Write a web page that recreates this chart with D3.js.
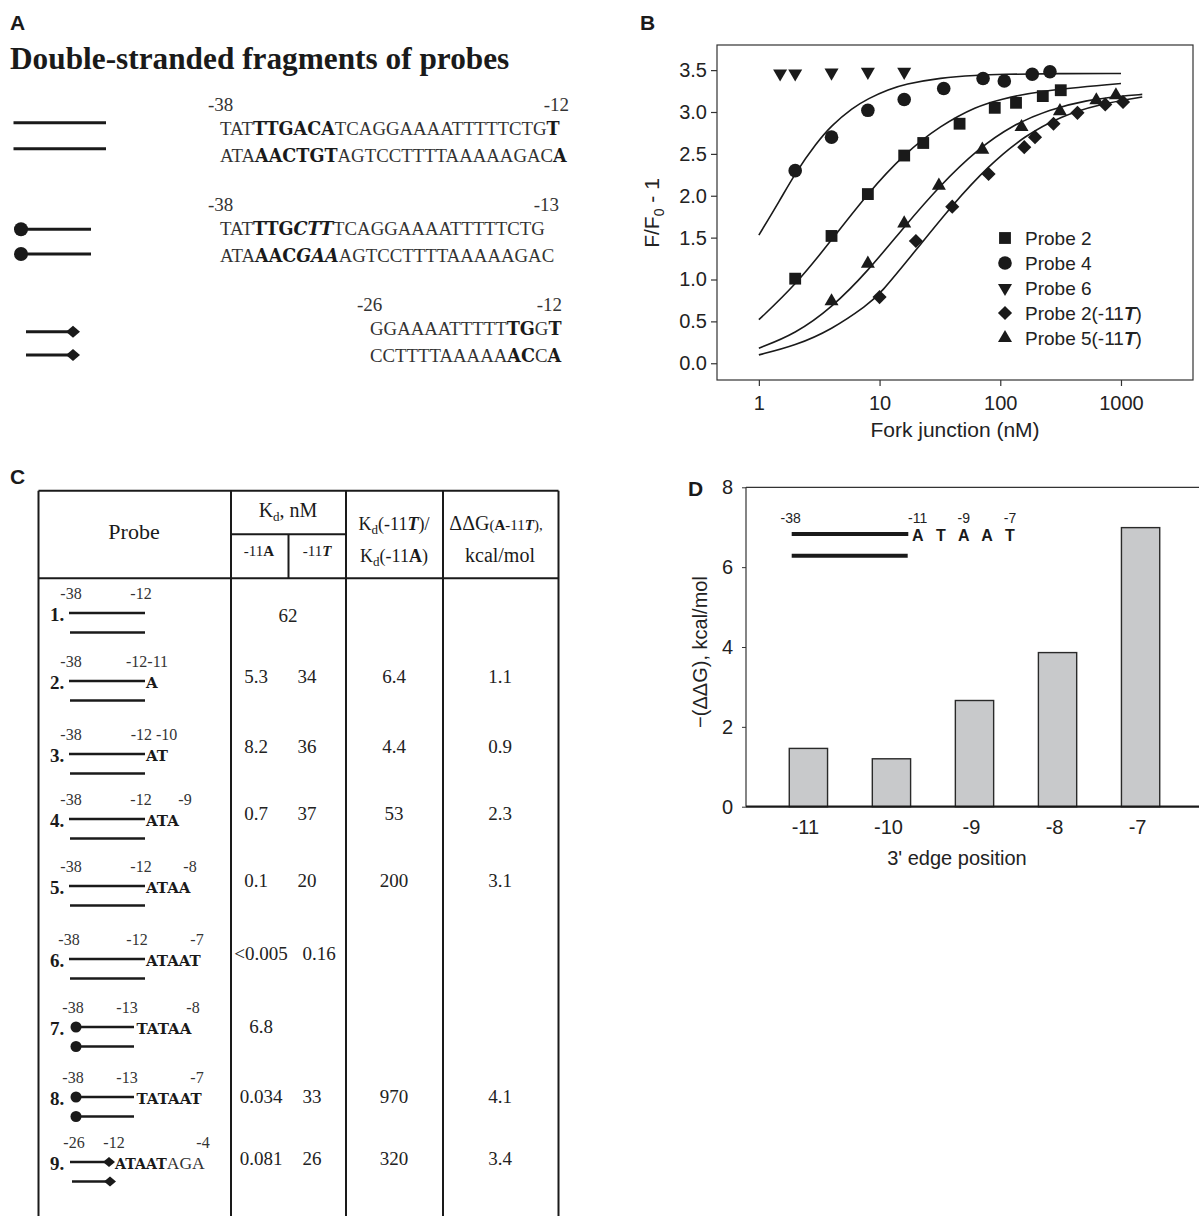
<!DOCTYPE html>
<html>
<head>
<meta charset="utf-8">
<script src="https://cdn.jsdelivr.net/npm/d3@7"></script>
<style>
body { margin: 0; background: #fff; }
svg { display: block; }
.serif { font-family: "Liberation Serif", "Times New Roman", serif; }
.sans { font-family: "Liberation Sans", Arial, Helvetica, sans-serif; }
.mono { font-family: "DejaVu Serif", "Courier New", serif; font-weight: bold; }
text { fill: #1a1a1a; }
</style>
</head>
<body>
<svg width="1199" height="1216"></svg>
<script>
// ---------- data ----------

// Panel A: sequences ([..] = bold, {..} = bold italic)
const seqTop = ["TAT[TTGACA]TCAGGAAAATTTTTCTG[T]", "TAT[TTG]{CTT}TCAGGAAAATTTTTCTG", "GGAAAATTTTT[TG]G[T]"];
const seqBottom = ["ATA[AACTGT]AGTCCTTTTAAAAAGAC[A]", "ATA[AAC]{GAA}AGTCCTTTTAAAAAGAC", "CCTTTTAAAAA[AC]C[A]"];
const seqStart = ["-38", "-38", "-26"];
const seqEnd = ["-12", "-13", "-12"];
const seqEnds = ["plain", "circle", "diamond"];

// Panel B: titration data
const probe2X = [2, 4, 8, 16, 23, 46, 90, 135, 225, 317];
const probe2Y = [1.01, 1.52, 2.02, 2.48, 2.63, 2.86, 3.05, 3.11, 3.19, 3.26];
const probe4X = [2, 4, 8, 16, 34, 72, 108, 184, 258];
const probe4Y = [2.30, 2.70, 3.02, 3.15, 3.28, 3.40, 3.37, 3.45, 3.48];
const probe6X = [1.5, 2, 4, 8, 16];
const probe6Y = [3.46, 3.46, 3.47, 3.48, 3.48];
const probe2TX = [10, 20, 40, 80, 158, 194, 276, 436, 741, 1040];
const probe2TY = [0.79, 1.46, 1.87, 2.26, 2.58, 2.70, 2.86, 2.99, 3.09, 3.12];
const probe5TX = [4, 8, 16, 31, 71, 150, 312, 625, 908];
const probe5TY = [0.74, 1.19, 1.67, 2.12, 2.55, 2.82, 3.01, 3.14, 3.20];

// Panel B: fitted curves
const fit4X = [1, 1.5, 2, 3, 4, 6, 8, 12, 16, 32, 64, 100, 300, 1000];
const fit4Y = [1.53, 1.95, 2.27, 2.63, 2.84, 3.05, 3.16, 3.27, 3.33, 3.41, 3.44, 3.45, 3.46, 3.46];
const fit2X = [1, 2, 4, 8, 16, 32, 64, 100, 200, 1000];
const fit2Y = [0.52, 0.93, 1.47, 2.03, 2.50, 2.84, 3.07, 3.15, 3.25, 3.34];
const fit5TX = [1, 2, 4, 8, 16, 32, 64, 128, 256, 512, 1000, 1500];
const fit5TY = [0.18, 0.35, 0.66, 1.10, 1.63, 2.13, 2.55, 2.85, 3.03, 3.14, 3.19, 3.21];
const fit2TX = [1, 2, 4, 8, 10, 20, 40, 80, 160, 320, 640, 1500];
const fit2TY = [0.10, 0.21, 0.40, 0.70, 0.82, 1.35, 1.89, 2.36, 2.72, 2.95, 3.09, 3.18];

const legendNames = ["Probe 2", "Probe 4", "Probe 6", "Probe 2(-11", "Probe 5(-11"];
const yTicksB = [0, 0.5, 1, 1.5, 2, 2.5, 3, 3.5];
const xTicksB = [1, 10, 100, 1000];

// Panel C: table
const rowNo = ["1.", "2.", "3.", "4.", "5.", "6.", "7.", "8.", "9."];
const rowEnd = ["plain", "plain", "plain", "plain", "plain", "plain", "circle", "circle", "diamond"];
const rowTail = ["", "[A]", "[AT]", "[ATA]", "[ATAA]", "[ATAAT]", "[TATAA]", "[TATAAT]", "[ATAAT]AGA"];
const rowPos = [["-38", "-12"], ["-38", "-12-11"], ["-38", "-12 -10"], ["-38", "-12", "-9"], ["-38", "-12", "-8"],
  ["-38", "-12", "-7"], ["-38", "-13", "-8"], ["-38", "-13", "-7"], ["-26", "-12", "-4"]];
const kdA = ["62", "5.3", "8.2", "0.7", "0.1", "<0.005", "6.8", "0.034", "0.081"];
const kdT = ["", "34", "36", "37", "20", "0.16", "", "33", "26"];
const kdRatio = ["", "6.4", "4.4", "53", "200", "", "", "970", "320"];
const ddG = ["", "1.1", "0.9", "2.3", "3.1", "", "", "4.1", "3.4"];

// Panel D
const edgePos = ["-11", "-10", "-9", "-8", "-7"];
const ddgVals = [1.46, 1.20, 2.66, 3.86, 6.99];
const yTicksD = [0, 2, 4, 6, 8];
const insetLetters = ["A", "T", "A", "A", "T"];

// ---------- layout ----------
const rowY = [613, 681, 754, 819, 886, 959, 1027, 1097, 1162];
const valY = [622, 683, 753, 820, 887, 960, 1033, 1103, 1165];
const rowPosX = [[71, 141], [71, 147], [71, 154], [71, 141, 185], [71, 141, 190],
  [69, 137, 197], [73, 127, 193], [73, 127, 197], [74, 114, 203]];

const svg = d3.select("svg");
const ink = "#1a1a1a";

// ---------- helpers ----------
function seqParts(s) {
  const parts = [];
  const re = /\[([^\]]+)\]|\{([^}]+)\}|([^\[\{]+)/g;
  let m;
  while ((m = re.exec(s))) {
    if (m[1]) parts.push({t: m[1], k: "b"});
    else if (m[2]) parts.push({t: m[2], k: "bi"});
    else parts.push({t: m[3], k: "r"});
  }
  return parts;
}

function drawSeq(g, x, y, s, serifSize, monoSize) {
  const t = g.append("text").attr("x", x).attr("y", y);
  seqParts(s).forEach(p => {
    const ts = t.append("tspan").text(p.t);
    if (p.k === "r") ts.attr("class", "serif").attr("font-size", serifSize).style("fill", "#333");
    else ts.attr("class", "mono").attr("font-size", monoSize).attr("font-style", p.k === "bi" ? "italic" : null);
  });
  return t;
}

// rich text: parts = [[text, opts]]
function rich(g, x, y, parts, anchor, cls, size) {
  const t = g.append("text").attr("x", x).attr("y", y).attr("class", cls)
    .attr("font-size", size).attr("text-anchor", anchor || "start");
  parts.forEach(p => {
    const o = p[1] || {};
    const ts = t.append("tspan").text(p[0]);
    if (o.b) ts.attr("font-weight", "bold");
    if (o.i) ts.attr("font-style", "italic");
    if (o.fs) ts.attr("font-size", o.fs);
    if (o.dy) ts.attr("dy", o.dy);
  });
  return t;
}

function strandEnd(g, kind, x1, x2, y, size) {
  g.append("line").attr("x1", x1).attr("x2", x2).attr("y1", y).attr("y2", y)
    .attr("stroke", ink).attr("stroke-width", size.w);
  if (kind === "circle") {
    g.append("circle").attr("cx", x1).attr("cy", y).attr("r", size.r).attr("fill", ink);
  } else if (kind === "diamond") {
    g.append("path")
      .attr("d", `M${x2 - size.dw},${y} L${x2},${y - size.dh} L${x2 + size.dw},${y} L${x2},${y + size.dh} Z`)
      .attr("fill", ink);
  }
}

function panelLabel(x, y, s) {
  svg.append("text").attr("x", x).attr("y", y).attr("class", "sans")
    .attr("font-size", 21).attr("font-weight", "bold").text(s);
}

// ---------- Panel A ----------
panelLabel(10, 30, "A");
const gA = svg.append("g");
gA.append("text").attr("x", 10).attr("y", 69).attr("class", "serif")
  .attr("font-size", 31.3).attr("font-weight", "bold").text("Double-stranded fragments of probes");

const aBase = [135, 235, 335];
const aSeqX = [220, 220, 370];
const aLabelStart = [208, 208, 357];
const aLabelEnd = [569, 559, 562];
const aIcon = [{x1: 13.5, x2: 106, y: [122.7, 148.7]}, {x1: 21, x2: 91, y: [229.3, 254]}, {x1: 26, x2: 73, y: [331.7, 355]}];

seqTop.forEach((s, i) => {
  gA.append("text").attr("x", aLabelStart[i]).attr("y", aBase[i] - 24.5).attr("class", "serif")
    .attr("font-size", 19).style("fill", "#333").text(seqStart[i]);
  gA.append("text").attr("x", aLabelEnd[i]).attr("y", aBase[i] - 24.5).attr("class", "serif")
    .attr("font-size", 19).attr("text-anchor", "end").style("fill", "#333").text(seqEnd[i]);
  drawSeq(gA, aSeqX[i], aBase[i], s, 18.8, 17.6);
  drawSeq(gA, aSeqX[i], aBase[i] + 26.5, seqBottom[i], 18.8, 17.6);
  const ic = aIcon[i];
  ic.y.forEach(yy => strandEnd(gA, seqEnds[i], ic.x1, ic.x2, yy, {w: 3, r: 7, dw: 7, dh: 6}));
});

// ---------- Panel B ----------
panelLabel(640, 30, "B");
const gB = svg.append("g");
const bx = d3.scaleLog().domain([0.45, 3950]).range([717, 1193]);
const by = d3.scaleLinear().domain([-0.2, 3.8]).range([380, 45]);

gB.append("rect").attr("x", 717).attr("y", 45).attr("width", 1193 - 717).attr("height", 380 - 45)
  .attr("fill", "none").attr("stroke", "#333").attr("stroke-width", 1.2);

const yAxB = gB.append("g").attr("transform", "translate(717,0)")
  .call(d3.axisLeft(by).tickValues(yTicksB).tickFormat(d3.format(".1f")).tickSize(6).tickPadding(4));
const xAxB = gB.append("g").attr("transform", "translate(0,380)")
  .call(d3.axisBottom(bx).tickValues(xTicksB).tickFormat(d3.format("d")).tickSize(6).tickPadding(10));
[yAxB, xAxB].forEach(a => {
  a.select(".domain").remove();
  a.selectAll("line").attr("stroke", "#333").attr("stroke-width", 1.2);
  a.selectAll("text").attr("class", "sans").attr("font-size", 20).style("fill", "#222");
});

gB.append("text").attr("x", 955).attr("y", 437).attr("class", "sans").attr("font-size", 21)
  .attr("text-anchor", "middle").style("fill", "#222").text("Fork junction (nM)");
rich(gB, 0, 0, [["F/F"], ["0", {fs: 14, dy: 5}], [" - 1", {dy: -5}]], "middle", "sans", 21)
  .attr("transform", "translate(659,213) rotate(-90)").style("fill", "#222");

const fitLine = d3.line().x(d => bx(d[0])).y(d => by(d[1])).curve(d3.curveBasis);
[[fit4X, fit4Y], [fit2X, fit2Y], [fit5TX, fit5TY], [fit2TX, fit2TY]].forEach(f => {
  gB.append("path").datum(d3.zip(f[0], f[1])).attr("d", fitLine)
    .attr("fill", "none").attr("stroke", ink).attr("stroke-width", 1.6);
});

const symSquare = d3.symbol().type(d3.symbolSquare).size(140);
const symCircle = d3.symbol().type(d3.symbolCircle).size(145);
const symTri = d3.symbol().type(d3.symbolTriangle).size(85);
const symDiamond = d3.symbol().type(d3.symbolSquare).size(100);
const series = [
  {x: probe2X, y: probe2Y, sym: symSquare, rot: 0},
  {x: probe4X, y: probe4Y, sym: symCircle, rot: 0},
  {x: probe6X, y: probe6Y, sym: symTri, rot: 180},
  {x: probe2TX, y: probe2TY, sym: symDiamond, rot: 45},
  {x: probe5TX, y: probe5TY, sym: symTri, rot: 0}
];
series.forEach(s => {
  gB.append("g").selectAll("path").data(d3.zip(s.x, s.y)).join("path")
    .attr("d", s.sym())
    .attr("transform", d => `translate(${bx(d[0])},${by(d[1])}) rotate(${s.rot})`)
    .attr("fill", ink);
});

// legend
const legY = d3.scalePoint().domain(legendNames).range([238, 338]);
const leg = gB.append("g").selectAll("g").data(legendNames).join("g")
  .attr("transform", d => `translate(1005,${legY(d)})`);
leg.append("path").attr("d", (d, i) => series[i].sym())
  .attr("transform", (d, i) => `rotate(${series[i].rot})`).attr("fill", ink);
leg.each(function(d, i) {
  const parts = i >= 3 ? [[d], ["T", {b: true, i: true}], [")"]] : [[d]];
  rich(d3.select(this), 20, 7, parts, "start", "sans", 19).style("fill", "#222");
});

// ---------- Panel C ----------
panelLabel(10, 484, "C");
const gC = svg.append("g");
const tL = 38.5, tR = 558.5, tT = 490.7, tB = 1216;
const colX = [231, 346, 443];
const subX = 288.5, subY = 534.3, headB = 578.3;
const tline = (x1, y1, x2, y2) => gC.append("line").attr("x1", x1).attr("y1", y1).attr("x2", x2).attr("y2", y2)
  .attr("stroke", ink).attr("stroke-width", 2);
tline(tL, tT, tR, tT);
tline(tL, tT, tL, tB);
tline(tR, tT, tR, tB);
colX.forEach(x => tline(x, tT, x, tB));
tline(colX[0], subY, colX[1], subY);
tline(subX, subY, subX, headB);
tline(tL, headB, tR, headB);

rich(gC, 134, 539, [["Probe"]], "middle", "serif", 22);
rich(gC, 288, 517, [["K"], ["d", {fs: 13, dy: 4}], [", nM", {dy: -4}]], "middle", "serif", 20);
rich(gC, 259, 556, [["-11"], ["A", {b: true}]], "middle", "serif", 15);
rich(gC, 317, 556, [["-11"], ["T", {b: true, i: true}]], "middle", "serif", 15);
rich(gC, 394, 530, [["K"], ["d", {fs: 13, dy: 4}], ["(-11", {dy: -4}], ["T", {b: true, i: true}], [")/"]], "middle", "serif", 18);
rich(gC, 394, 562, [["K"], ["d", {fs: 13, dy: 4}], ["(-11", {dy: -4}], ["A", {b: true}], [")"]], "middle", "serif", 18);
rich(gC, 496, 530, [["ΔΔG"], ["(", {fs: 15}], ["A", {b: true, fs: 15}], ["-11", {fs: 15}], ["T", {b: true, i: true, fs: 15}], ["),", {fs: 15}]], "middle", "serif", 20);
rich(gC, 500, 562, [["kcal/mol"]], "middle", "serif", 20);

const tailX = {plain: 146, circle: 136.5, diamond: 115};
const iconX = {plain: [[69, 145], [70, 145]], circle: [[76, 134], [76, 134]], diamond: [[70, 109], [72, 110]]};
rowNo.forEach((n, i) => {
  const y = rowY[i], kind = rowEnd[i];
  gC.append("text").attr("x", 50).attr("y", y + 8).attr("class", "serif")
    .attr("font-size", 19).attr("font-weight", "bold").text(n);
  rowPos[i].forEach((p, j) => {
    gC.append("text").attr("x", rowPosX[i][j]).attr("y", y - 14.5).attr("class", "serif")
      .attr("font-size", 16).attr("text-anchor", "middle").style("fill", "#333").text(p);
  });
  iconX[kind].forEach((xx, j) => strandEnd(gC, kind, xx[0], xx[1], y + j * 19.5, {w: 2.6, r: 5.5, dw: 6, dh: 5}));
  if (rowTail[i]) drawSeq(gC, tailX[kind], y + 7, rowTail[i], 17.5, kind === "diamond" ? 14.2 : 15);

  const vy = valY[i];
  const cell = (x, s) => { if (s) gC.append("text").attr("x", x).attr("y", vy).attr("class", "serif")
    .attr("font-size", 19).attr("text-anchor", "middle").style("fill", "#222").text(s); };
  if (kdT[i] === "" && i === 0) cell(288, kdA[i]);
  else cell(kdT[i] === "" ? 261 : (kdA[i].length > 3 ? 261 : 256), kdA[i]);
  cell(kdT[i].length > 2 ? 319 : (kdA[i].length > 3 ? 312 : 307), kdT[i]);
  cell(394, kdRatio[i]);
  cell(500, ddG[i]);
});

// ---------- Panel D ----------
const gD = svg.append("g");
svg.append("text").attr("x", 688).attr("y", 496).attr("class", "sans")
  .attr("font-size", 21).attr("font-weight", "bold").text("D");
const dxS = d3.scaleBand().domain(edgePos).range([746, 1203]).paddingInner(0.539).paddingOuter(0.521);
const dyS = d3.scaleLinear().domain([0, 8]).range([806.7, 487.3]);

gD.append("line").attr("x1", 746).attr("x2", 1199).attr("y1", 487.3).attr("y2", 487.3)
  .attr("stroke", "#333").attr("stroke-width", 1.2);
gD.append("line").attr("x1", 746).attr("x2", 746).attr("y1", 487.3).attr("y2", 806.7)
  .attr("stroke", "#333").attr("stroke-width", 1.2);

gD.append("g").selectAll("rect").data(d3.zip(edgePos, ddgVals)).join("rect")
  .attr("x", d => dxS(d[0])).attr("width", dxS.bandwidth())
  .attr("y", d => dyS(d[1])).attr("height", d => dyS(0) - dyS(d[1]))
  .attr("fill", "#c8c9cb").attr("stroke", "#2a2a2a").attr("stroke-width", 1.4);

const yAxD = gD.append("g").attr("transform", "translate(746,0)")
  .call(d3.axisLeft(dyS).tickValues(yTicksD).tickSize(4).tickPadding(9));
const xAxD = gD.append("g").attr("transform", "translate(0,806.7)")
  .call(d3.axisBottom(dxS).tickSize(0).tickPadding(13));
yAxD.select(".domain").remove();
xAxD.select(".domain").remove();
[yAxD, xAxD].forEach(a => {
  a.selectAll("line").attr("stroke", "#333");
  a.selectAll("text").attr("class", "sans").attr("font-size", 20).style("fill", "#222");
});
xAxD.selectAll("text").attr("dx", -3);
gD.append("line").attr("x1", 746).attr("x2", 1199).attr("y1", 806.7).attr("y2", 806.7)
  .attr("stroke", "#1a1a1a").attr("stroke-width", 2.2);

gD.append("text").attr("x", 957).attr("y", 865).attr("class", "sans").attr("font-size", 20)
  .attr("text-anchor", "middle").style("fill", "#222").text("3' edge position");
gD.append("text").attr("transform", "translate(707,652) rotate(-90)").attr("class", "sans")
  .attr("font-size", 20).attr("text-anchor", "middle").style("fill", "#222").text("−(ΔΔG), kcal/mol");

// inset schematic
gD.append("line").attr("x1", 791.7).attr("x2", 908.3).attr("y1", 534).attr("y2", 534)
  .attr("stroke", ink).attr("stroke-width", 4);
gD.append("line").attr("x1", 791.7).attr("x2", 907.7).attr("y1", 555.7).attr("y2", 555.7)
  .attr("stroke", ink).attr("stroke-width", 4);
const insetX = d3.scalePoint().domain(d3.range(insetLetters.length)).range([917.7, 1010]);
gD.append("g").selectAll("text").data(insetLetters).join("text")
  .attr("x", (d, i) => insetX(i)).attr("y", 541).attr("class", "sans").attr("font-size", 16)
  .attr("font-weight", "bold").attr("text-anchor", "middle").text(d => d);
const insetNums = [["-38", 790.7], ["-11", insetX(0)], ["-9", insetX(2)], ["-7", insetX(4)]];
gD.append("g").selectAll("text").data(insetNums).join("text")
  .attr("x", d => d[1]).attr("y", 523).attr("class", "sans").attr("font-size", 14)
  .attr("text-anchor", "middle").style("fill", "#222").text(d => d[0]);
</script>
</body>
</html>
